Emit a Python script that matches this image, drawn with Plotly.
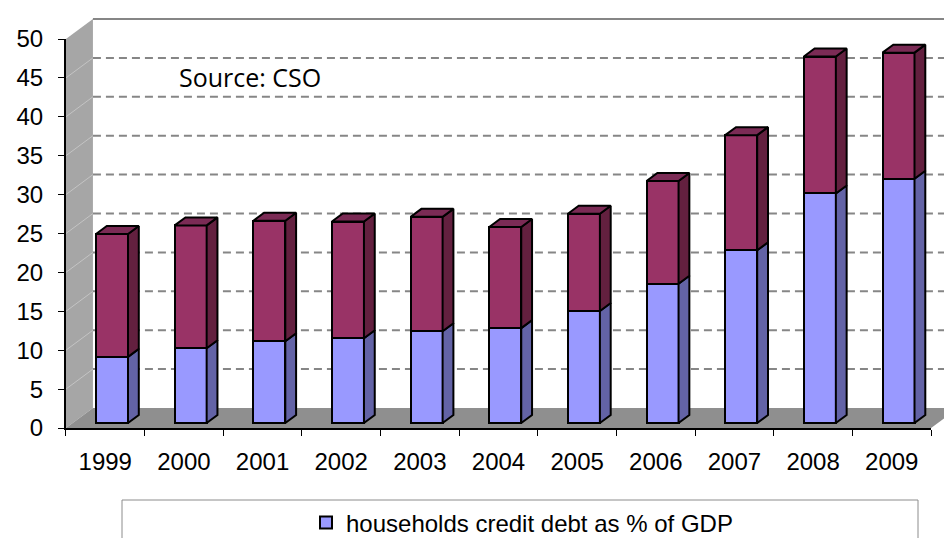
import plotly.graph_objects as go

# ---- data -------------------------------------------------------------
years = ["1999", "2000", "2001", "2002", "2003", "2004",
         "2005", "2006", "2007", "2008", "2009"]
households = [8.5, 9.6, 10.5, 10.9, 11.8, 12.2, 14.4, 17.9, 22.2, 29.5, 31.4]
upper_part = [15.8, 15.8, 15.5, 15.0, 14.7, 13.0, 12.5, 13.2, 14.8, 17.6, 16.2]
y_ticks = list(range(0, 55, 5))
legend_label = "households credit debt as % of GDP"
source_note = "Source: CSO"

# ---- page geometry (pixels) ---------------------------------------------
W, H = 944, 538
CAT0_PX, CAT_STEP_PX = 112.0, 78.65      # bar-plane category centre / spacing
ZERO_PX, UNIT_PX = 423.0, 7.78           # bar-plane zero line / px per unit
DEPTH_PX = (27.0, 20.0)                  # front wall -> back wall offset
BAR_PLANE = 0.25                         # depth of bar front faces (0=front,1=back)
BAR_DEPTH = 0.40                         # depth of the bars themselves
BAR_W = 32.0 / CAT_STEP_PX

# depth offsets in data units of the main (bar-plane) axes
DX = DEPTH_PX[0] / CAT_STEP_PX
DY = DEPTH_PX[1] / UNIT_PX


def plane(x, v, depth):
    """Position of (category x, value v) on the plane at a given depth."""
    d = depth - BAR_PLANE
    return x + d * DX, v + d * DY


x_range = [(0 - CAT0_PX) / CAT_STEP_PX, (W - CAT0_PX) / CAT_STEP_PX]
y_range = [(ZERO_PX - H) / UNIT_PX, ZERO_PX / UNIT_PX]

n = len(years)
xs = list(range(n))
totals = [a + b for a, b in zip(households, upper_part)]

BLUE, BLUE_SIDE = "#9999ff", "#6363a6"
RED, RED_SIDE, RED_TOP = "#993366", "#63203f", "#7b2b55"
OUTLINE = dict(color="black", width=2)

fig = go.Figure()

# front faces of the stacked columns
fig.add_trace(go.Bar(x=xs, y=households, width=BAR_W, name=legend_label,
                     marker=dict(color=BLUE, line=OUTLINE)))
fig.add_trace(go.Bar(x=xs, y=upper_part, width=BAR_W, name="remaining",
                     showlegend=False, marker=dict(color=RED, line=OUTLINE)))


def side_faces(lows, highs):
    px, py = [], []
    ddx, ddy = BAR_DEPTH * DX, BAR_DEPTH * DY
    for x, lo, hi in zip(xs, lows, highs):
        r = x + BAR_W / 2
        px += [r, r + ddx, r + ddx, r, r, None]
        py += [lo, lo + ddy, hi + ddy, hi, lo, None]
    return px, py


sx, sy = side_faces([0] * n, households)
fig.add_trace(go.Scatter(x=sx, y=sy, mode="lines", fill="toself",
                         fillcolor=BLUE_SIDE, line=OUTLINE,
                         showlegend=False, hoverinfo="skip"))
sx, sy = side_faces(households, totals)
fig.add_trace(go.Scatter(x=sx, y=sy, mode="lines", fill="toself",
                         fillcolor=RED_SIDE, line=OUTLINE,
                         showlegend=False, hoverinfo="skip"))

# top faces
tx, ty = [], []
ddx, ddy = BAR_DEPTH * DX, BAR_DEPTH * DY
for x, t in zip(xs, totals):
    l, r = x - BAR_W / 2, x + BAR_W / 2
    tx += [l, l + ddx, r + ddx, r, l, None]
    ty += [t, t + ddy, t + ddy, t, t, None]
fig.add_trace(go.Scatter(x=tx, y=ty, mode="lines", fill="toself",
                         fillcolor=RED_TOP, line=OUTLINE,
                         showlegend=False, hoverinfo="skip"))

# carrier trace for the front axes
fig.add_trace(go.Scatter(x=years, y=[None] * n, xaxis="x2", yaxis="y2",
                         mode="markers", showlegend=False, hoverinfo="skip"))

# ---- walls, floor, gridlines ---------------------------------------------
shapes = []
xl, xr = -0.5, n - 0.5
vmax = y_ticks[-1]


def pt(x, v, depth):
    a, b = plane(x, v, depth)
    return f"{a:.4f},{b:.4f}"


shapes.append(dict(type="path", xref="x", yref="y", layer="below",
                   path=f"M{pt(xl,0,0)} L{pt(xl,vmax,0)} L{pt(xl,vmax,1)} L{pt(xl,0,1)} Z",
                   fillcolor="#a6a6a6", line=dict(width=0)))
shapes.append(dict(type="path", xref="x", yref="y", layer="below",
                   path=f"M{pt(xl,0,0)} L{pt(xr,0,0)} L{pt(xr,0,1)} L{pt(xl,0,1)} Z",
                   fillcolor="#8f8f8f", line=dict(width=0)))

for v in y_ticks[1:-1]:
    x0, y0 = plane(xl, v, 0)
    x1, y1 = plane(xl, v, 1)
    shapes.append(dict(type="line", xref="x", yref="y", layer="below",
                       x0=x0, y0=y0, x1=x1, y1=y1,
                       line=dict(color="#c4c4c4", width=1)))
    x0, y0 = plane(xl, v, 1)
    x1, y1 = plane(xr, v, 1)
    shapes.append(dict(type="line", xref="x", yref="y", layer="below",
                       x0=x0, y0=y0, x1=x1, y1=y1,
                       line=dict(color="#868686", width=2, dash="8px,5px")))

x0, y0 = plane(xl, vmax, 1)
x1, y1 = plane(xr, vmax, 1)
shapes.append(dict(type="line", xref="x", yref="y", layer="below",
                   x0=x0, y0=y0, x1=x1, y1=y1,
                   line=dict(color="#868686", width=2)))

# white box behind the source note
shapes.append(dict(type="rect", xref="paper", yref="paper", layer="below",
                   x0=157 / W, x1=335 / W, y0=1 - 110 / H, y1=1 - 45 / H,
                   fillcolor="white", line=dict(width=0)))

# legend frame
shapes.append(dict(type="rect", xref="paper", yref="paper", layer="below",
                   x0=122 / W, x1=918 / W, y0=1 - 560 / H, y1=1 - 500 / H,
                   fillcolor="white", line=dict(color="#8c8c8c", width=1)))

# ---- front axes ------------------------------------------------------------
fx_left = CAT0_PX + CAT_STEP_PX * plane(xl, 0, 0)[0]
fx_right = CAT0_PX + CAT_STEP_PX * plane(xr, 0, 0)[0]
fy_zero = ZERO_PX - UNIT_PX * plane(0, 0, 0)[1]
fy_top = ZERO_PX - UNIT_PX * plane(0, vmax, 0)[1]

tick_font = dict(family="Liberation Sans, Arial, sans-serif", size=24, color="black")

fig.update_layout(
    width=W, height=H,
    margin=dict(l=0, r=0, t=0, b=0, autoexpand=False),
    paper_bgcolor="white", plot_bgcolor="rgba(0,0,0,0)",
    barmode="stack", bargap=0,
    shapes=shapes,
    xaxis=dict(domain=[0, 1], range=x_range, visible=False, fixedrange=True),
    yaxis=dict(domain=[0, 1], range=y_range, visible=False, fixedrange=True),
    xaxis2=dict(domain=[fx_left / W, fx_right / W], anchor="y2",
                type="category", categoryarray=years, range=[-0.5, n - 0.5],
                tickson="boundaries", ticks="outside", ticklen=6,
                tickcolor="black", tickwidth=1,
                showline=True, linecolor="black", linewidth=2,
                showgrid=False, zeroline=False, tickfont=tick_font,
                ticklabelstandoff=11, fixedrange=True, automargin=False),
    yaxis2=dict(domain=[(H - fy_zero) / H, (H - fy_top) / H], anchor="x2",
                range=[0, vmax], tickvals=y_ticks, ticks="outside", ticklen=6,
                tickcolor="black", tickwidth=1,
                showline=True, linecolor="black", linewidth=2,
                showgrid=False, zeroline=False, tickfont=tick_font,
                ticklabelstandoff=10, fixedrange=True, automargin=False),
    legend=dict(orientation="h", x=522 / W, xanchor="center",
                y=1 - 523 / H, yanchor="middle",
                bgcolor="rgba(0,0,0,0)", borderwidth=0,
                font=dict(family="Liberation Sans, Arial, sans-serif",
                          size=24, color="black"),
                itemwidth=30),
    annotations=[dict(text=source_note, xref="paper", yref="paper",
                      x=250 / W, y=1 - 77 / H, showarrow=False,
                      xanchor="center", yanchor="middle",
                      font=dict(family="Open Sans, sans-serif", size=25,
                                color="black"))],
    showlegend=True,
)

fig.write_html("out.html")
